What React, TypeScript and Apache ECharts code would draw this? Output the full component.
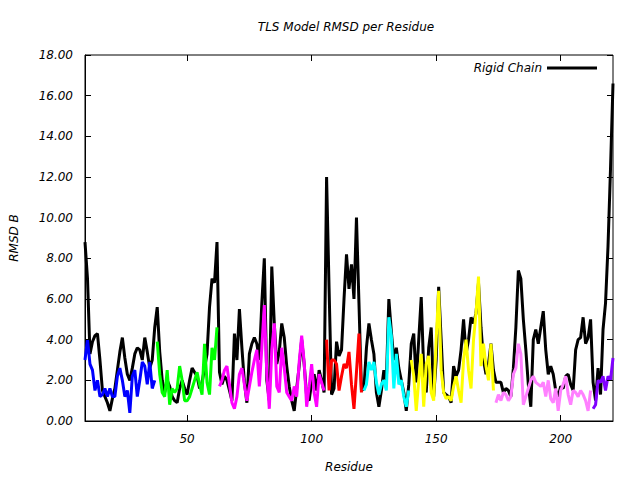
import { useEffect, useRef } from "react";
import * as echarts from "echarts";

// Residue range
const firstResidue = 9;
const lastResidue = 221;

// Rigid chain RMSD B, residues 9..221
const rigidChain = [
  8.8, 7.0, 3.3, 3.9, 4.2, 4.3, 3.0, 1.5, 1.2, 0.9,
  0.5, 1.1, 1.6, 2.5, 3.4, 4.1, 3.1, 2.3, 2.0, 2.6,
  3.3, 3.6, 3.5, 3.0, 4.1, 3.4, 2.6, 3.0, 4.6, 5.6,
  3.4, 2.0, 1.4, 2.0, 1.7, 1.2, 1.0, 0.9, 1.6, 2.0,
  1.6, 1.3, 2.0, 2.6, 2.4, 2.2, 1.6, 1.9, 2.6, 3.3,
  5.6, 7.0, 6.8, 8.8, 2.4, 1.8, 2.2, 2.0, 1.5, 1.0,
  4.3, 3.0, 5.5, 3.6, 1.9, 0.9, 3.3, 3.8, 4.1, 3.8,
  3.0, 5.8, 8.0, 2.0, 1.0, 7.6, 4.8, 2.8, 3.4, 4.8,
  4.1, 2.7, 1.7, 1.0, 0.5, 1.6, 2.7, 4.0, 2.8, 1.2,
  1.0, 1.9, 2.3, 1.5, 2.5, 2.0, 1.4, 12.0, 6.5, 1.3,
  1.6, 3.9, 3.2, 3.5, 6.0, 8.2, 6.5, 7.7, 6.0, 10.0,
  5.8, 1.5, 1.6, 3.6, 4.8, 4.0, 3.3, 1.4, 0.7, 1.5,
  2.5, 2.0, 6.0, 4.4, 3.0, 3.6, 2.6, 2.0, 1.4, 0.5,
  1.8, 3.8, 4.3, 1.9, 4.0, 6.1, 2.5, 1.4, 3.6, 4.6,
  1.2, 3.0, 6.6, 4.0, 1.4, 1.3, 1.2, 0.9, 2.7, 2.2,
  2.5, 3.5, 5.0, 3.3, 4.0, 5.1, 4.8, 5.3, 6.8, 4.6,
  3.0, 2.3, 2.8, 3.8, 2.5, 1.9, 1.9, 1.9, 1.4, 1.6,
  1.5, 1.2, 2.6, 4.6, 7.4, 7.0, 5.0, 3.5, 1.8, 0.7,
  4.0, 4.5, 3.8, 4.6, 5.4, 3.5, 2.3, 2.7, 2.3, 1.5,
  1.2, 1.7, 1.6, 2.2, 2.3, 1.8, 1.5, 3.5, 4.0, 4.1,
  5.1, 3.8, 4.1, 5.0, 1.9, 1.0, 2.6, 1.3, 4.5, 5.8,
  8.6, 12.4, 16.6,
];

// TLS group segments: first residue of each group and its RMSD values
const groupStarts = [9, 38, 63, 106, 121, 140, 174, 213];

const group1 = [
  3.0, 4.0, 2.8, 2.5, 1.5, 2.0, 1.2, 1.3, 1.6, 1.2,
  1.6, 1.2, 1.2, 2.2, 2.6, 2.0, 1.2, 1.5, 0.4, 2.2,
  2.5, 1.2, 2.0, 2.9, 2.7, 1.8, 2.9, 1.6, 2.0,
];
const group2 = [
  3.9, 2.3, 1.4, 1.2, 2.5, 0.8, 1.6, 1.4, 1.6, 2.7,
  2.0, 1.0, 1.0, 1.2, 1.6, 2.0, 2.4, 1.8, 1.3, 3.8,
  1.9, 1.3, 3.6, 3.0, 4.6,
];
const group3 = [
  1.7, 2.0, 2.5, 2.7, 1.8, 0.9, 0.6, 1.2, 2.3, 2.6,
  1.8, 1.0, 1.7, 2.4, 3.0, 3.5, 1.7, 3.6, 5.7, 2.3,
  0.6, 3.5, 4.8, 1.7, 1.4, 3.6, 2.6, 1.4, 1.2, 1.0,
  1.7, 1.2, 2.9, 4.2, 2.9, 0.7, 1.7, 2.8, 1.4, 0.7,
  2.3, 1.9, 1.5,
];
const group4 = [4.0, 1.5, 3.0, 3.0, 2.8, 1.5, 2.2, 2.8, 2.6, 3.4, 1.8, 0.6, 2.4, 4.3, 1.4];
const group5 = [1.5, 1.8, 2.9, 2.5, 2.9, 1.9, 1.3, 1.8, 2.0, 1.5, 5.1, 4.2, 1.6, 3.3, 1.8, 2.0, 1.2, 0.7, 1.5];
const group6 = [
  3.0, 2.2, 0.5, 2.0, 3.3, 0.7, 2.8, 3.2, 1.4, 1.0,
  4.0, 6.4, 2.5, 1.4, 1.1, 1.2, 1.0, 1.7, 2.2, 1.5,
  0.9, 3.0, 4.0, 2.5, 1.6, 4.0, 5.3, 7.1, 2.7, 3.8,
  2.7, 2.0, 3.8, 1.5,
];
const group7 = [
  0.9, 1.3, 1.0, 1.4, 1.3, 1.0, 1.2, 2.3, 2.6, 3.8,
  3.3, 0.8, 1.2, 1.6, 2.0, 2.2, 1.9, 1.8, 1.7, 1.9,
  1.2, 2.0, 1.1, 0.9, 1.6, 0.5, 1.5, 1.8, 2.2, 1.3,
  0.8, 1.5, 1.4, 1.2, 1.5, 1.3, 1.0, 0.5, 1.5,
];
const group8 = [0.6, 0.8, 2.0, 1.9, 2.2, 1.5, 2.2, 2.0, 3.1];

const groups = [group1, group2, group3, group4, group5, group6, group7, group8];
const groupColors = ["#0000ff", "#00ff00", "#ff00ff", "#ff0000", "#00ffff", "#ffff00", "#ff80ff", "#8000ff"];

// Tick values
const xTicks = [50, 100, 150, 200];
const yTicks = [0, 2, 4, 6, 8, 10, 12, 14, 16, 18];
const yMin = 0;
const yMax = 18;
const yStep = 2;

const FONT = "DejaVu Sans";
const TICK_LEN = 6;

export default function App() {
  const ref = useRef<HTMLDivElement>(null);
  useEffect(() => {
    if (!ref.current) return;
    const chart = echarts.init(ref.current, null, { renderer: "svg" });
    const toPairs = (start: number, vals: number[]) => vals.map((v, i) => [start + i, v]);

    const textStyle = { fontFamily: FONT, fontStyle: "italic" as const, fontSize: 12, color: "#000" };
    const tickLine = { stroke: "#000", lineWidth: 1 };
    const crisp = (v: number) => Math.round(v - 0.5) + 0.5;

    const series: any[] = [
      {
        name: "Rigid Chain",
        type: "line",
        data: toPairs(firstResidue, rigidChain),
        showSymbol: false,
        lineStyle: { color: "#000", width: 3 },
        itemStyle: { color: "#000" },
        z: 2,
      },
      ...groups.map((g, i) => ({
        name: "TLS group " + (i + 1),
        type: "line",
        data: toPairs(groupStarts[i], g),
        showSymbol: false,
        lineStyle: { color: groupColors[i], width: 3 },
        itemStyle: { color: groupColors[i] },
        z: 3,
      })),
      {
        name: "xticks",
        type: "custom",
        data: xTicks.map((v) => [v, yMin]),
        clip: false,
        silent: true,
        z: 4,
        renderItem: (_p: any, api: any) => {
          const x = api.value(0);
          const b = api.coord([x, yMin]);
          const t = api.coord([x, yMax]);
          const cx = crisp(b[0]);
          return {
            type: "group",
            children: [
              { type: "line", shape: { x1: cx, y1: b[1], x2: cx, y2: b[1] - TICK_LEN }, style: tickLine },
              { type: "line", shape: { x1: cx, y1: t[1], x2: cx, y2: t[1] + TICK_LEN }, style: tickLine },
            ],
          };
        },
      },
      {
        name: "yticks",
        type: "custom",
        data: yTicks.map((v) => [firstResidue, v]),
        clip: false,
        silent: true,
        z: 4,
        renderItem: (_p: any, api: any) => {
          const y = api.value(1);
          const l = api.coord([firstResidue, y]);
          const r = api.coord([lastResidue, y]);
          const cy = crisp(l[1]);
          return {
            type: "group",
            children: [
              { type: "line", shape: { x1: l[0], y1: cy, x2: l[0] + TICK_LEN, y2: cy }, style: tickLine },
              { type: "line", shape: { x1: r[0], y1: cy, x2: r[0] - TICK_LEN, y2: cy }, style: tickLine },
            ],
          };
        },
      },
    ];

    chart.setOption({
      animation: false,
      backgroundColor: "#fff",
      grid: { left: 85, right: 27, top: 55, bottom: 59, containLabel: false, show: true, borderColor: "#000", borderWidth: 1, backgroundColor: "transparent" },
      graphic: [
        {
          type: "text",
          x: 346,
          y: 27,
          style: {
            text: "TLS Model RMSD per Residue",
            fontFamily: FONT,
            fontStyle: "italic",
            fontSize: 12,
            fill: "#000",
            textAlign: "center",
            textVerticalAlign: "middle",
          },
        },
      ],
      legend: {
        data: [{ name: "Rigid Chain", icon: "rect" }],
        right: 38,
        top: 57,
        align: "right",
        itemWidth: 50,
        itemHeight: 3,
        textStyle: { ...textStyle },
        selectedMode: false,
      },
      xAxis: {
        type: "value",
        min: firstResidue,
        max: lastResidue,
        position: "bottom",
        axisLine: { show: true, onZero: false, lineStyle: { color: "#000", width: 1 } },
        axisTick: { show: false },
        splitLine: { show: false },
        name: "Residue",
        nameLocation: "middle",
        nameGap: 40,
        nameTextStyle: { ...textStyle },
        axisLabel: { show: true, customValues: xTicks, margin: 12, ...textStyle },
      },
      yAxis: {
        type: "value",
        min: yMin,
        max: yMax,
        interval: yStep,
        position: "left",
        axisLine: { show: true, onZero: false, lineStyle: { color: "#000", width: 1 } },
        axisTick: { show: false },
        splitLine: { show: false },
        name: "RMSD B",
        nameLocation: "middle",
        nameGap: 65,
        nameRotate: 90,
        nameTextStyle: { ...textStyle },
        axisLabel: {
          show: true,
          margin: 12,
          formatter: (v: number) => v.toFixed(2),
          ...textStyle,
        },
      },
      series,
    });
    return () => chart.dispose();
  }, []);
  return <div ref={ref} style={{ position: "absolute", left: 0, top: 0, width: 640, height: 480 }} />;
}
